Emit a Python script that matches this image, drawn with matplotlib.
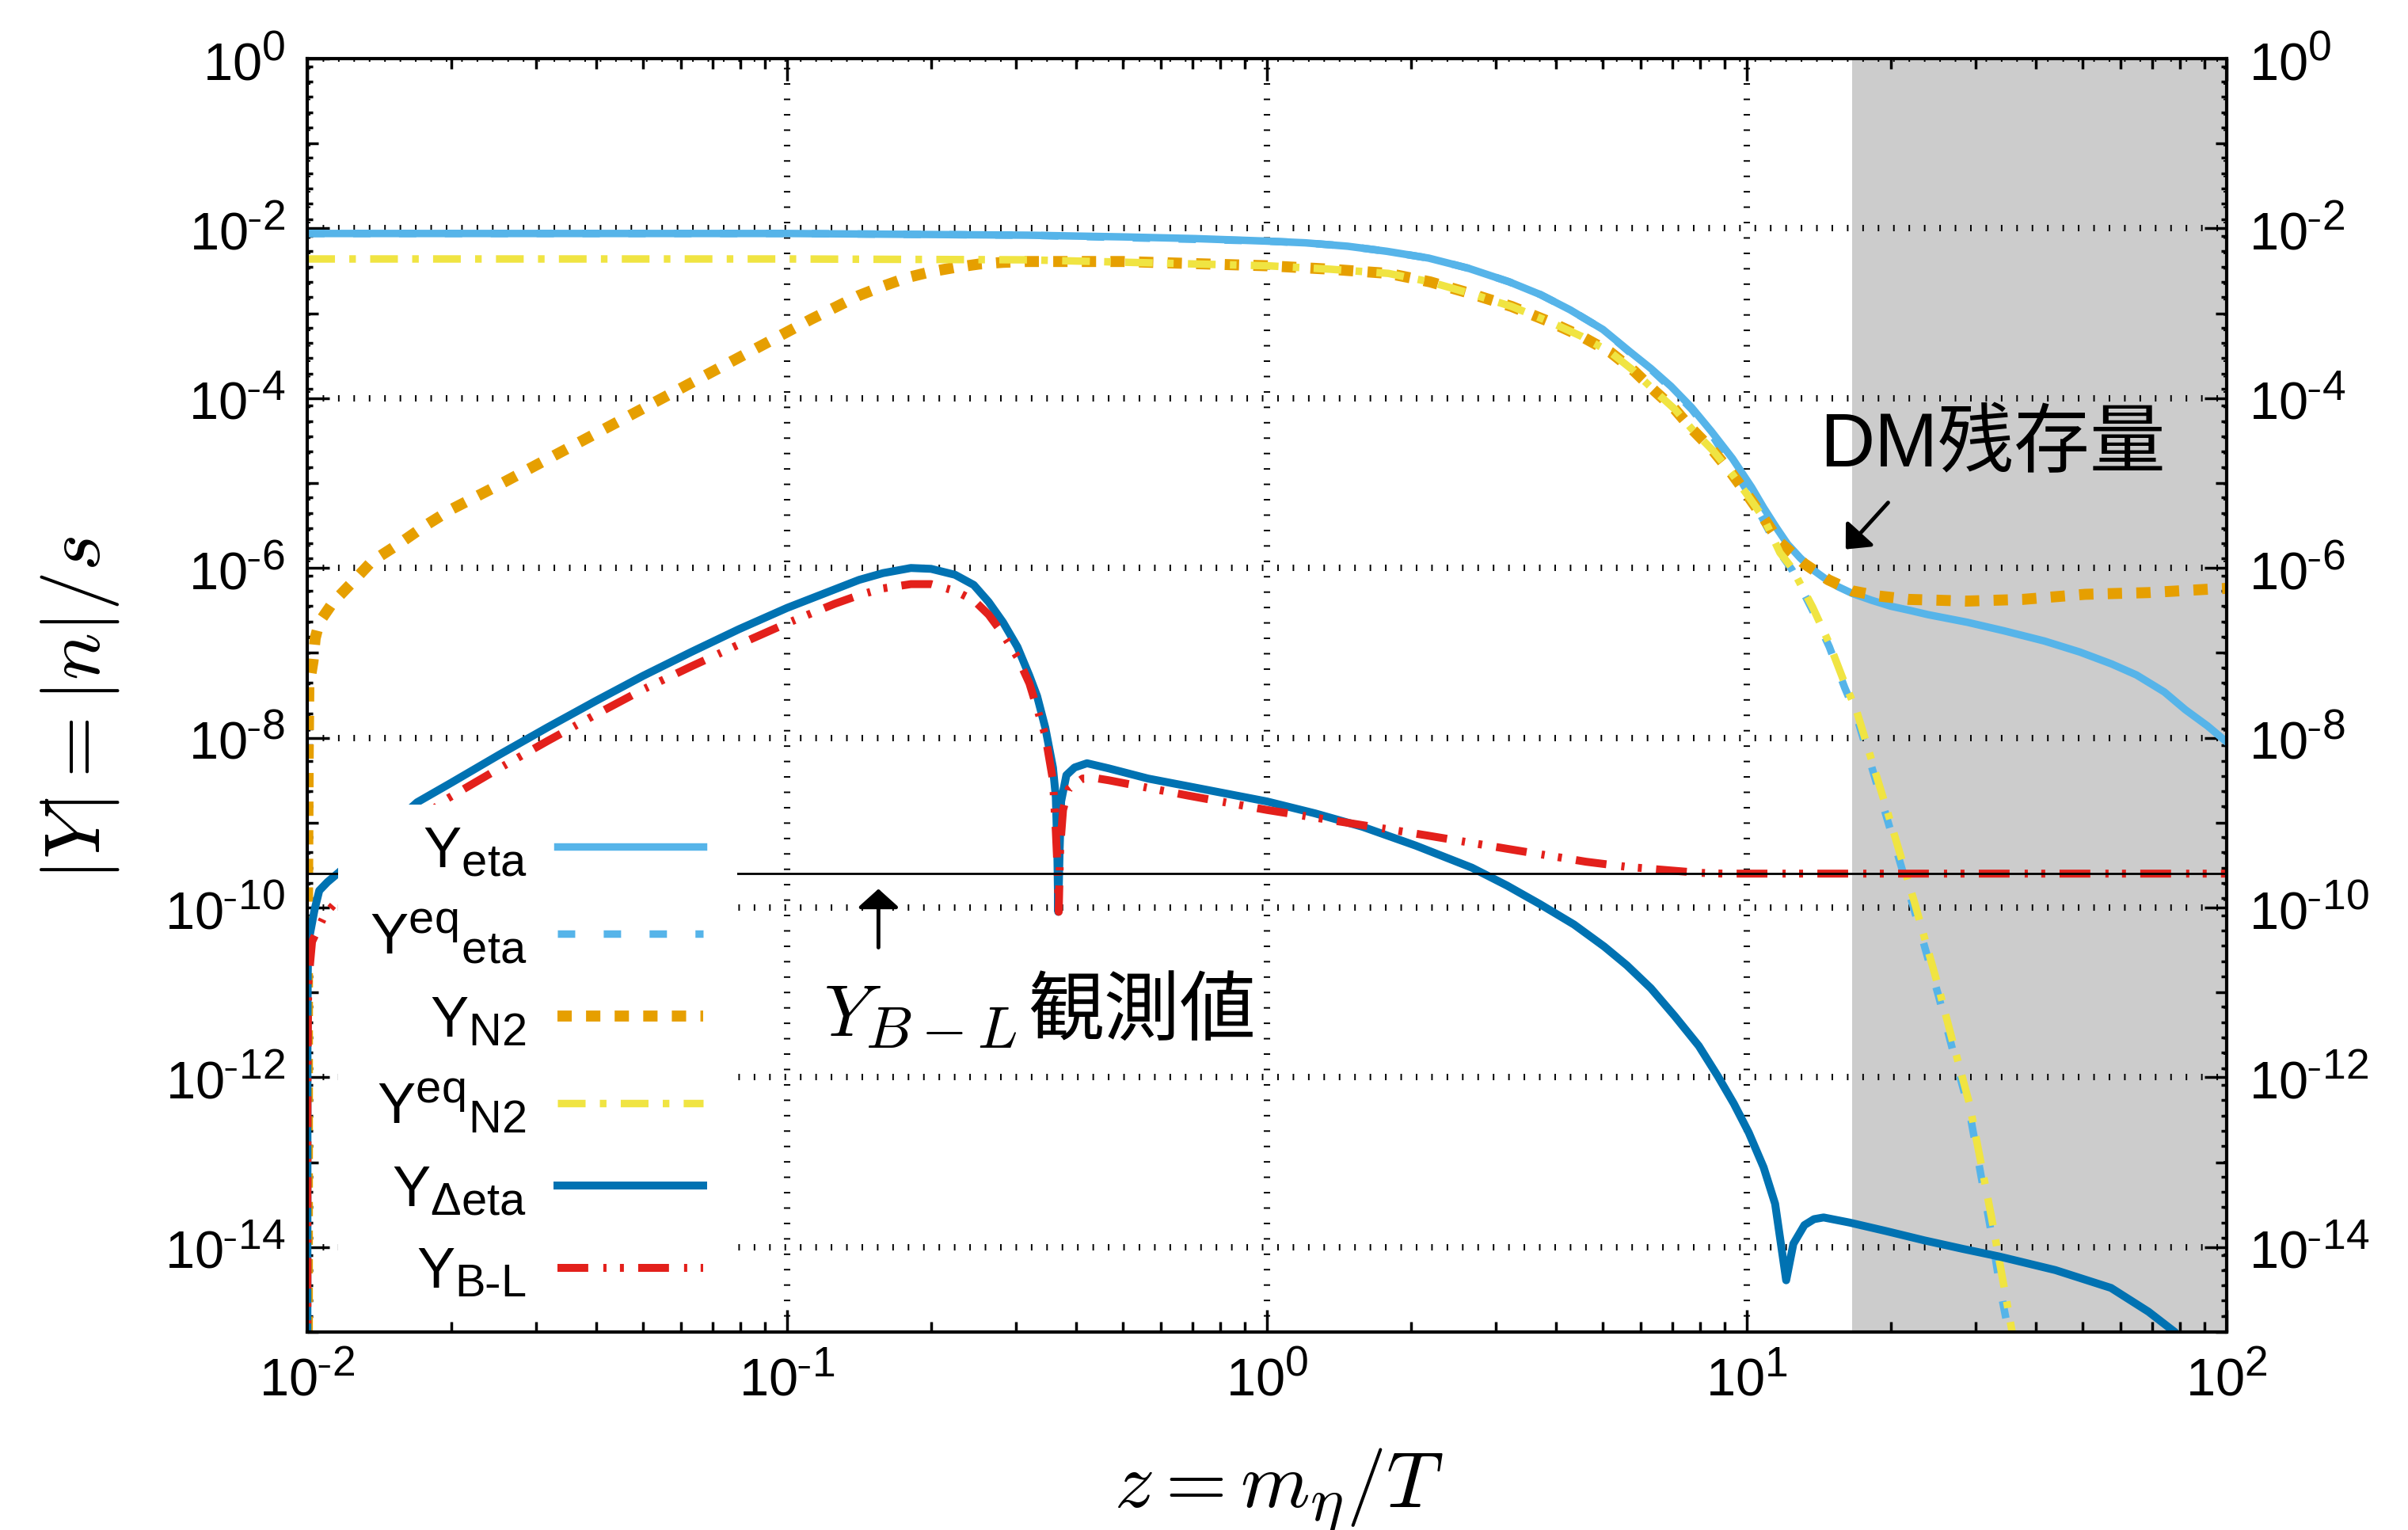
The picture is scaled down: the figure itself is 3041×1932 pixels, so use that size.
import matplotlib

matplotlib.use("Agg")
import matplotlib._mathtext as mathtext_internals
import matplotlib.pyplot as plt
import numpy as np
from matplotlib.patches import Rectangle
from matplotlib.ticker import FixedLocator, FuncFormatter, LogLocator, NullFormatter

# gnuplot style sub/superscripts are larger than the mathtext default
mathtext_internals.SHRINK_FACTOR = 0.8

plt.rcParams["font.family"] = ["Liberation Sans", "Noto Sans CJK JP", "DejaVu Sans"]
plt.rcParams["mathtext.fontset"] = "cm"
plt.rcParams["lines.scale_dashes"] = False

# ---- data (log10 z, log10 |Y|) ----
lz_eta = [-2.0, -1.0, -0.5, -0.3, -0.15, 0.0, 0.08, 0.168, 0.25, 0.337, 0.42, 0.505,
          0.57, 0.632, 0.70, 0.758, 0.80, 0.842, 0.885, 0.926, 0.97, 1.01, 1.035,
          1.061, 1.085, 1.111, 1.135, 1.162, 1.19, 1.22, 1.26, 1.30, 1.34, 1.378,
          1.46, 1.536, 1.62, 1.694, 1.76, 1.812, 1.87, 1.914, 1.96, 2.0]
ly_eta = [-2.06, -2.06, -2.08, -2.10, -2.12, -2.15, -2.17, -2.21, -2.27, -2.35, -2.47, -2.63,
          -2.78, -2.96, -3.19, -3.46, -3.65, -3.86, -4.11, -4.39, -4.71, -5.05, -5.29,
          -5.52, -5.72, -5.88, -6.01, -6.12, -6.22, -6.30, -6.38, -6.45, -6.50, -6.55,
          -6.64, -6.74, -6.86, -6.99, -7.13, -7.26, -7.46, -7.67, -7.86, -8.05]

lz_eta_eq = [-2.0, -1.0, -0.5, 0.0, 0.08, 0.168, 0.25, 0.337, 0.42, 0.505, 0.57, 0.632,
             0.70, 0.758, 0.80, 0.842, 0.885, 0.926, 0.969, 1.01, 1.036, 1.069, 1.094,
             1.137, 1.172, 1.204, 1.228, 1.30, 1.35, 1.40, 1.43, 1.464, 1.51, 1.53, 1.58]
ly_eta_eq = [-2.06, -2.06, -2.08, -2.15, -2.17, -2.21, -2.27, -2.35, -2.47, -2.63, -2.78, -2.96,
             -3.19, -3.47, -3.66, -3.88, -4.13, -4.42, -4.8, -5.18, -5.45, -5.82, -6.02,
             -6.5, -6.93, -7.41, -7.73, -9.1, -10.05, -11.05, -11.7, -12.4, -13.85, -14.55, -16.0]

lz_n2 = [-2.0, -1.9995, -1.998, -1.9967, -1.988, -1.9835, -1.975, -1.947, -1.903,
         -1.865, -1.81, -1.754, -1.70, -1.617, -1.4, -1.2, -1.0, -0.95, -0.9, -0.85,
         -0.8, -0.75, -0.7, -0.65, -0.6, -0.55, -0.5, -0.3, 0.0, 0.13, 0.253, 0.34,
         0.42, 0.51, 0.589, 0.655, 0.716, 0.765, 0.809, 0.85, 0.885, 0.93, 0.969,
         1.005, 1.036, 1.069, 1.12, 1.17, 1.22, 1.275, 1.338, 1.401, 1.457, 1.575,
         1.705, 1.836, 1.962, 2.0]
ly_n2 = [-20.0, -10.0, -8.2, -7.4, -7.1, -6.83, -6.64, -6.41, -6.15,
         -5.92, -5.72, -5.5, -5.31, -5.07, -4.42, -3.82, -3.22, -3.07, -2.93, -2.79,
         -2.68, -2.58, -2.51, -2.46, -2.42, -2.40, -2.39, -2.39, -2.44, -2.48, -2.53, -2.63,
         -2.76, -2.92, -3.1, -3.27, -3.46, -3.68, -3.92, -4.13, -4.36, -4.62, -4.89,
         -5.17, -5.42, -5.7, -5.95, -6.14, -6.27, -6.33, -6.37, -6.38, -6.39, -6.37,
         -6.31, -6.29, -6.25, -6.24]

lz_n2_eq = [-2.0, -1.0, -0.5, 0.0, 0.13, 0.253, 0.34, 0.42, 0.51, 0.589, 0.655, 0.716,
            0.765, 0.809, 0.85, 0.885, 0.93, 0.969, 1.005, 1.036, 1.069, 1.094, 1.137,
            1.172, 1.204, 1.228, 1.30, 1.35, 1.40, 1.43, 1.464, 1.51, 1.553, 1.60]
ly_n2_eq = [-2.36, -2.36, -2.37, -2.44, -2.48, -2.53, -2.63, -2.76, -2.92, -3.1, -3.27, -3.46,
            -3.68, -3.92, -4.13, -4.36, -4.62, -4.89, -5.17, -5.42, -5.82, -6.0, -6.46,
            -6.89, -7.36, -7.67, -9.0, -9.95, -10.95, -11.6, -12.31, -13.65, -15.0, -16.5]

lz_deta = [-2.0, -1.9995, -1.999, -1.998, -1.985, -1.975, -1.958, -1.935, -1.771,
           -1.70, -1.6, -1.5, -1.4, -1.3, -1.2, -1.1, -1.0, -0.9, -0.85, -0.8, -0.742,
           -0.70, -0.65, -0.611, -0.58, -0.55, -0.52, -0.495, -0.479, -0.462, -0.446,
           -0.44, -0.437, -0.435, -0.432, -0.429, -0.418, -0.401, -0.375, -0.33,
           -0.248, -0.165, 0.0, 0.1, 0.2, 0.31, 0.427, 0.5, 0.569, 0.64, 0.703, 0.75,
           0.8, 0.85, 0.9, 0.94, 0.973, 1.004, 1.035, 1.059, 1.082, 1.097, 1.12, 1.14,
           1.16, 1.214, 1.29, 1.37, 1.45, 1.526, 1.643, 1.759, 1.837, 1.892, 1.95]
ly_deta = [-20.0, -11.5, -10.8, -10.42, -10.03, -9.8, -9.7, -9.59, -8.76,
           -8.53, -8.2, -7.88, -7.57, -7.27, -6.99, -6.72, -6.47, -6.25, -6.14, -6.06, -6.0,
           -6.01, -6.08, -6.2, -6.4, -6.64, -6.93, -7.27, -7.51, -7.88, -8.35,
           -8.7, -9.3, -10.05, -9.3, -8.75, -8.44, -8.35, -8.3, -8.36,
           -8.48, -8.57, -8.75, -8.89, -9.05, -9.27, -9.53, -9.74, -9.96, -10.2, -10.46, -10.68,
           -10.95, -11.28, -11.63, -11.99, -12.31, -12.65, -13.06, -13.49, -14.39, -13.96, -13.74, -13.67,
           -13.65, -13.71, -13.81, -13.92, -14.02, -14.11, -14.27, -14.48, -14.76, -15.0, -15.4]

lz_bl = [-2.0, -1.9995, -1.998, -1.99, -1.964, -1.935, -1.721, -1.6, -1.5, -1.4, -1.3,
         -1.2, -1.1, -1.0, -0.9, -0.85, -0.8, -0.742, -0.70, -0.65, -0.611, -0.58, -0.55,
         -0.52, -0.495, -0.462, -0.446, -0.44, -0.436, -0.434, -0.431, -0.425, -0.413,
         -0.384, -0.352, -0.33, -0.165, 0.0, 0.2, 0.333, 0.503, 0.665, 0.75, 0.835,
         0.9, 0.95, 1.0, 2.0]
ly_bl = [-20.0, -12.0, -10.9, -10.4, -10.09, -9.9, -8.76, -8.36, -8.04, -7.73, -7.43,
         -7.16, -6.9, -6.65, -6.42, -6.32, -6.24, -6.19, -6.19, -6.27, -6.38, -6.55, -6.78,
         -7.05, -7.36, -7.97, -8.5, -9.1, -9.6, -10.05, -9.3, -8.85, -8.6,
         -8.48, -8.48, -8.5, -8.68, -8.85, -9.03, -9.15, -9.31, -9.46, -9.52, -9.56,
         -9.59, -9.6, -9.6, -9.6]

Y_BL_OBS = 2.5e-10    # observed B-L asymmetry
Z_DM_START = 16.6     # shaded region
labels = [r"$\mathregular{Y_{eta}}$", r"$\mathregular{Y^{eq}{}_{eta}}$",
          r"$\mathregular{Y_{N2}}$", r"$\mathregular{Y^{eq}{}_{N2}}$",
          r"$\mathregular{Y_{\Delta eta}}$", r"$\mathregular{Y_{B\text{-}L}}$"]


def to_lin(a):
    return 10.0 ** np.asarray(a)


def pow_label(v):
    e = int(round(np.log10(v)))
    if e < 0:
        return r"$\mathregular{10^{\text{-}%d}}$" % (-e)
    return r"$\mathregular{10^{%d}}$" % e


fig = plt.figure(figsize=(30.41, 19.33), dpi=100)
ax = fig.add_axes([0.1276, 0.1293, 0.7971, 0.8319])
ax.set_xscale("log")
ax.set_yscale("log")
ax.set_xlim(1e-2, 1e2)
ax.set_ylim(1e-15, 1e0)

ax.axvspan(Z_DM_START, 1e2, color="#cccccc", lw=0, zorder=0.5)

lw = 6.8
ax.plot(to_lin(lz_eta), to_lin(ly_eta), color="#56B4E9", lw=lw, label=labels[0])
ax.plot(to_lin(lz_eta_eq), to_lin(ly_eta_eq), color="#56B4E9", lw=lw,
        dashes=(15.8, 25.9), label=labels[1])
ax.plot(to_lin(lz_n2), to_lin(ly_n2), color="#E69F00", lw=10,
        dashes=(13, 13), label=labels[2])
ax.plot(to_lin(lz_n2_eq), to_lin(ly_n2_eq), color="#F0E442", lw=lw,
        dashes=(25.2, 13, 6, 13), label=labels[3])
ax.plot(to_lin(lz_deta), to_lin(ly_deta), color="#0072B2", lw=7.2, label=labels[4])
ax.plot(to_lin(lz_bl), to_lin(ly_bl), color="#E3201B", lw=7.2,
        dashes=(28, 13.7, 2.9, 12.2, 3.6, 13), label=labels[5])
ax.axhline(Y_BL_OBS, color="k", lw=2)

# ticks, gnuplot look
y_exp = np.arange(-15, 1)
ax.xaxis.set_major_locator(FixedLocator(10.0 ** np.arange(-2, 3)))
ax.xaxis.set_minor_locator(LogLocator(base=10, subs=np.arange(2, 10), numticks=20))
ax.xaxis.set_major_formatter(FuncFormatter(lambda v, p: pow_label(v)))
ax.xaxis.set_minor_formatter(NullFormatter())
ax.yaxis.set_major_locator(FixedLocator(10.0 ** y_exp))
ax.yaxis.set_major_formatter(
    FuncFormatter(lambda v, p: pow_label(v) if round(np.log10(v)) % 2 == 0 else ""))
y_minor = [10.0 ** (e - 0.09 - 0.18 * j) for e in range(0, -16, -2) for j in range(11) if j != 5]
ax.yaxis.set_minor_locator(FixedLocator(y_minor))
ax.yaxis.set_minor_formatter(NullFormatter())

ax.tick_params(which="both", direction="in", top=True, right=True, labelright=True,
               labelsize=48, pad=20, width=2.5, color="k")
ax.tick_params(which="major", length=20)
ax.tick_params(axis="x", which="minor", length=9.5)
ax.tick_params(axis="y", which="minor", length=5)
for s in ax.spines.values():
    s.set_linewidth(3)
ax.grid(True, which="major", color="k", linewidth=5.8, linestyle=(0, (1.4, 12.6)))

for e, tick in zip(y_exp, ax.yaxis.get_major_ticks(len(y_exp))):
    if e % 2:
        tick.tick1line.set_markersize(10)
        tick.tick2line.set_markersize(10)
        tick.gridline.set_visible(False)

ax.set_xlabel(r"$z = m_\eta / T$", fontsize=72)
ax.xaxis.set_label_coords(0.506, -0.089)
ax.set_ylabel(r"$|Y| = |n|/s$", fontsize=72)
ax.yaxis.set_label_coords(-0.097, 0.4907)

# key box (opaque, no border)
ax.add_patch(Rectangle((0.016, 0.018), 0.208, 0.396, transform=ax.transAxes,
                       fc="white", ec="none", zorder=3))
ax.legend(loc="upper right", bbox_to_anchor=(0.2063, 0.398), frameon=False,
          fontsize=52, markerfirst=False, handlelength=2.55, handletextpad=0.54,
          labelspacing=0.51, borderpad=0, borderaxespad=0)

# annotations
ax.text(14.2, 10 ** -4.56, "DM残存量", ha="left", va="center", fontsize=69,
        family=["Liberation Sans", "Noto Sans CJK JP"])
ax.annotate("", xy=(16.07, 10 ** -5.78), xytext=(19.7, 10 ** -5.23),
            arrowprops=dict(arrowstyle="-|>,head_length=0.4,head_width=0.36",
                            color="k", lw=3.5, mutation_scale=40, shrinkA=0, shrinkB=0))
ax.annotate("", xy=(0.155, 10 ** -9.78), xytext=(0.155, 10 ** -10.47),
            arrowprops=dict(arrowstyle="-|>,head_length=0.36,head_width=0.4",
                            color="k", lw=3.5, mutation_scale=40, shrinkA=0, shrinkB=0))
ax.text(0.119, 10 ** -11.5, r"$Y_{B-L}$", ha="left", va="baseline", fontsize=67)
ax.text(0.318, 10 ** -11.22, "観測値", ha="left", va="center", fontsize=69,
        family="Noto Sans CJK JP")

fig.savefig("out.png", dpi=100)
